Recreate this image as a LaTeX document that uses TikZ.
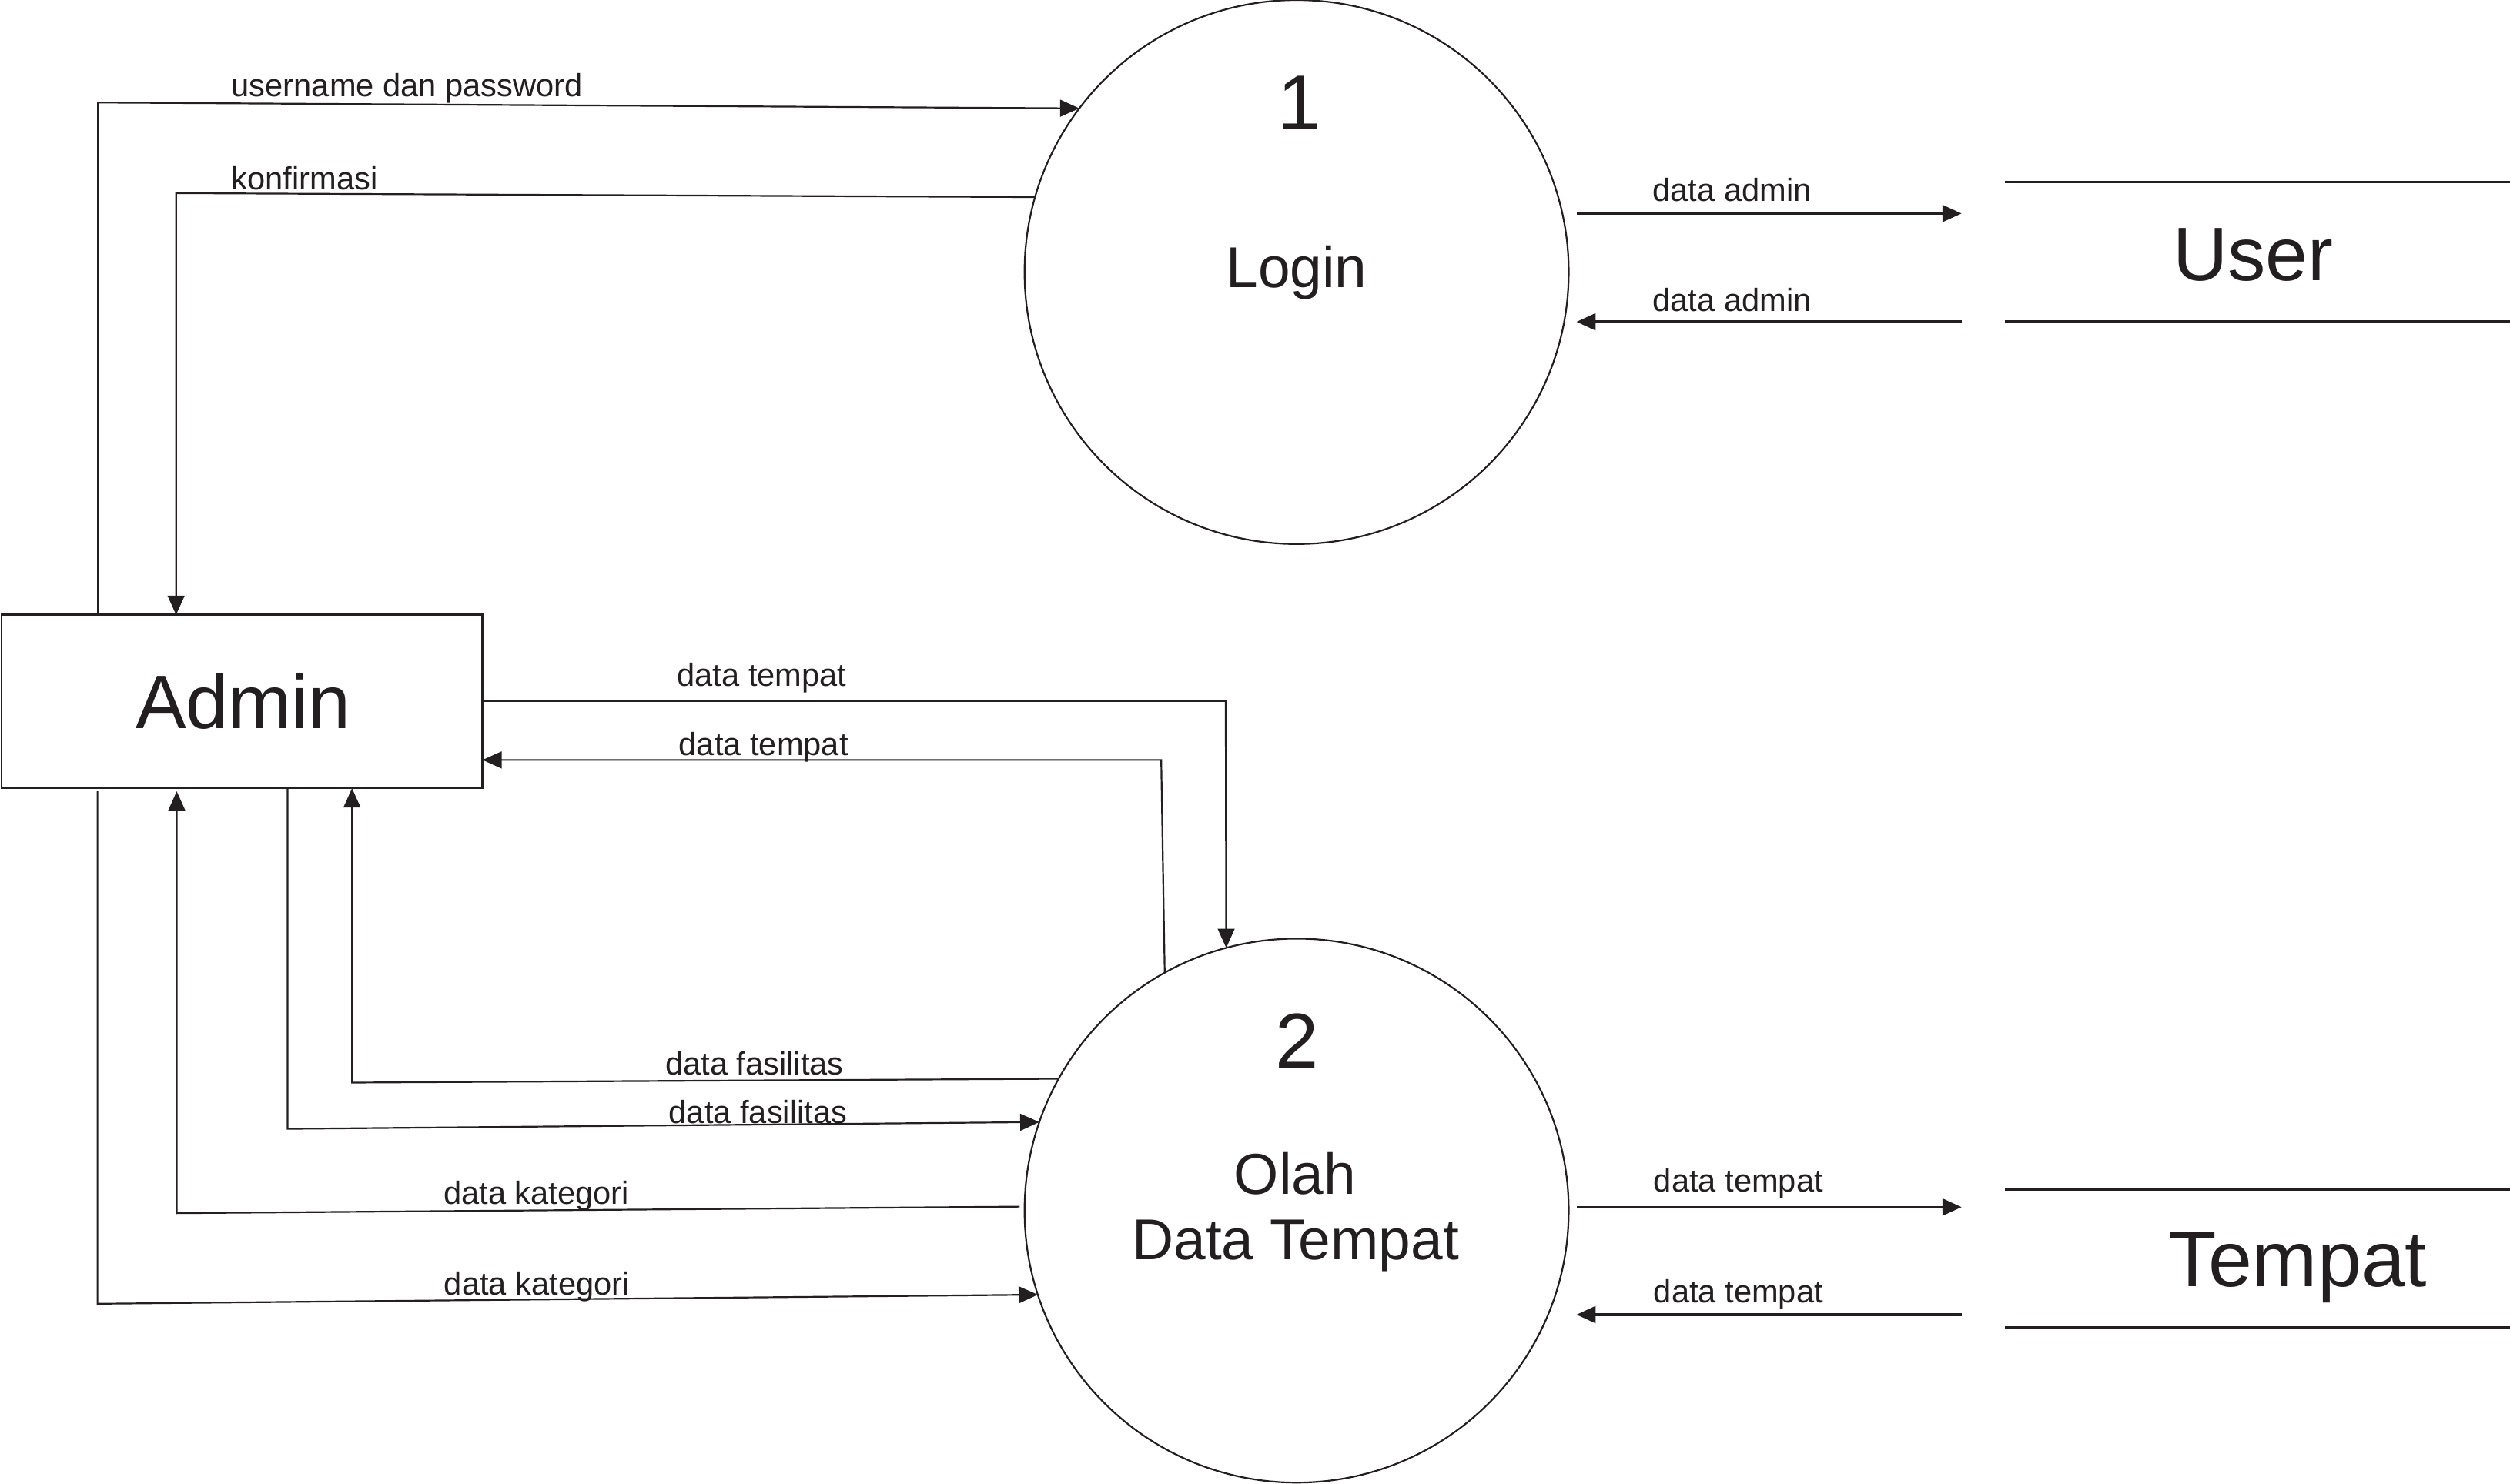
\documentclass[tikz,border=0pt]{standalone}
\usepackage{fontspec}
\setmainfont{Liberation Sans}
\usetikzlibrary{arrows.meta}
\definecolor{ink}{RGB}{35,31,32}
\begin{document}
\begin{tikzpicture}[x=0.02cm,y=-0.02cm,color=ink,line width=0.6pt,
  flow/.style={line width=0.6pt,-{Triangle[length=0.24cm,width=0.21cm]}},
  storeflow/.style={line width=0.9pt,-{Triangle[length=0.24cm,width=0.21cm]}},
  storeline/.style={line width=0.9pt},
  proc/.style={circle,draw,minimum size=6.8cm,inner sep=0pt,outer sep=0pt,line width=0.6pt},
  entity/.style={rectangle,draw,minimum width=6.008cm,minimum height=2.166cm,inner sep=0pt,outer sep=0pt,line width=0.6pt},
  lbl/.style={font=\fontsize{11.4}{13}\selectfont,anchor=base,inner sep=0pt},
  num/.style={font=\fontsize{27.7}{32}\selectfont,anchor=base,inner sep=0pt},
  ptxt/.style={font=\fontsize{20.5}{24}\selectfont,anchor=base,inner sep=0pt},
  bigtxt/.style={font=\fontsize{27}{32}\selectfont,anchor=base,inner sep=0pt},
  tmptxt/.style={font=\fontsize{28}{32}\selectfont,anchor=base,inner sep=0pt}]
\useasboundingbox (0,0) rectangle (1568,927.33);

% processes and entity
\node[proc] (c1) at (810,170) {};
\node[proc] (c2) at (810,756.5) {};
\node[entity] (admin) at (151.2,438.2) {};
\node[bigtxt] (admintxt) at (151.9,455.3) {Admin};
\node[num] (n1) at (811.7,81) {1};
\node[ptxt] (login) at (810,179.5) {Login};
\node[num] (n2) at (810.5,667.6) {2};
\node[ptxt] (olah) at (809,746.2) {Olah};
\node[ptxt] (dtempat) at (809.3,787.1) {Data Tempat};

% data stores
\coordinate (utl) at (1252.4,113.9); \coordinate (utr) at (1568,113.9);
\coordinate (ubl) at (1252.4,200.8); \coordinate (ubr) at (1568,200.8);
\draw[storeline] (utl) -- (utr);
\draw[storeline] (ubl) -- (ubr);
\node[bigtxt] (usertxt) at (1407.5,175.5) {User};
\coordinate (ttl) at (1252.4,743.2); \coordinate (ttr) at (1568,743.2);
\coordinate (tbl) at (1252.4,829.7); \coordinate (tbr) at (1568,829.7);
\draw[storeline] (ttl) -- (ttr);
\draw[storeline] (tbl) -- (tbr);
\node[tmptxt] (tempattxt) at (1435.5,803.9) {Tempat};

% username dan password
\coordinate (f1a) at (61.2,384.2); \coordinate (f1b) at (61.2,64.1);
\draw[flow] (f1a) -- (f1b) -- (c1.143);
\node[lbl] (l1) at (254.3,60.5) {username dan password};

% konfirmasi
\coordinate (f2b) at (110,120.7); \coordinate (f2c) at (110,384.2);
\draw[flow] (c1.164.6) -- (f2b) -- (f2c);
\node[lbl] (l2) at (190.3,118.6) {konfirmasi};

% data admin
\coordinate (f3a) at (984.8,133.4); \coordinate (f3b) at (1225.4,133.4);
\draw[storeflow] (f3a) -- (f3b);
\node[lbl] (l3) at (1082,126) {data admin};
\coordinate (f4a) at (1225.4,201.1); \coordinate (f4b) at (984.8,201.1);
\draw[storeflow] (f4a) -- (f4b);
\node[lbl] (l4) at (1082,194.4) {data admin};

% data tempat admin -> 2
\coordinate (f5a) at (301.4,438.1); \coordinate (f5b) at (765.7,438.1);
\draw[flow] (f5a) -- (f5b) -- (c2.105);
\node[lbl] (l5) at (476,429) {data tempat};

% data tempat 2 -> admin
\coordinate (f6b) at (725.4,474.9); \coordinate (f6c) at (301.4,474.9);
\draw[flow] (c2.119) -- (f6b) -- (f6c);
\node[lbl] (l6) at (477,471.9) {data tempat};

% data fasilitas 2 -> admin
\coordinate (f7b) at (219.9,676.5); \coordinate (f7c) at (219.9,492.6);
\draw[flow] (c2.151.3) -- (f7b) -- (f7c);
\node[lbl] (l7) at (471.4,671.6) {data fasilitas};

% data fasilitas admin -> 2
\coordinate (f8a) at (179.6,492.3); \coordinate (f8b) at (179.6,705.4);
\draw[flow] (f8a) -- (f8b) -- (c2.161.8);
\node[lbl] (l8) at (473.5,702.2) {data fasilitas};

% data kategori 2 -> admin
\coordinate (f9a) at (637,754); \coordinate (f9b) at (110.4,758.1); \coordinate (f9c) at (110.4,494.5);
\draw[flow] (f9a) -- (f9b) -- (f9c);
\node[lbl] (l9) at (335,752.6) {data kategori};

% data kategori admin -> 2
\coordinate (f10a) at (60.9,494.5); \coordinate (f10b) at (60.9,814.7);
\draw[flow] (f10a) -- (f10b) -- (c2.198.9);
\node[lbl] (l10) at (335.4,809.4) {data kategori};

% data tempat 2 <-> Tempat
\coordinate (f11a) at (984.8,754.3); \coordinate (f11b) at (1225.4,754.3);
\draw[storeflow] (f11a) -- (f11b);
\node[lbl] (l11) at (1086,744.7) {data tempat};
\coordinate (f12a) at (1225.4,821.5); \coordinate (f12b) at (984.8,821.5);
\draw[storeflow] (f12a) -- (f12b);
\node[lbl] (l12) at (1086,813.9) {data tempat};
\end{tikzpicture}
\end{document}
